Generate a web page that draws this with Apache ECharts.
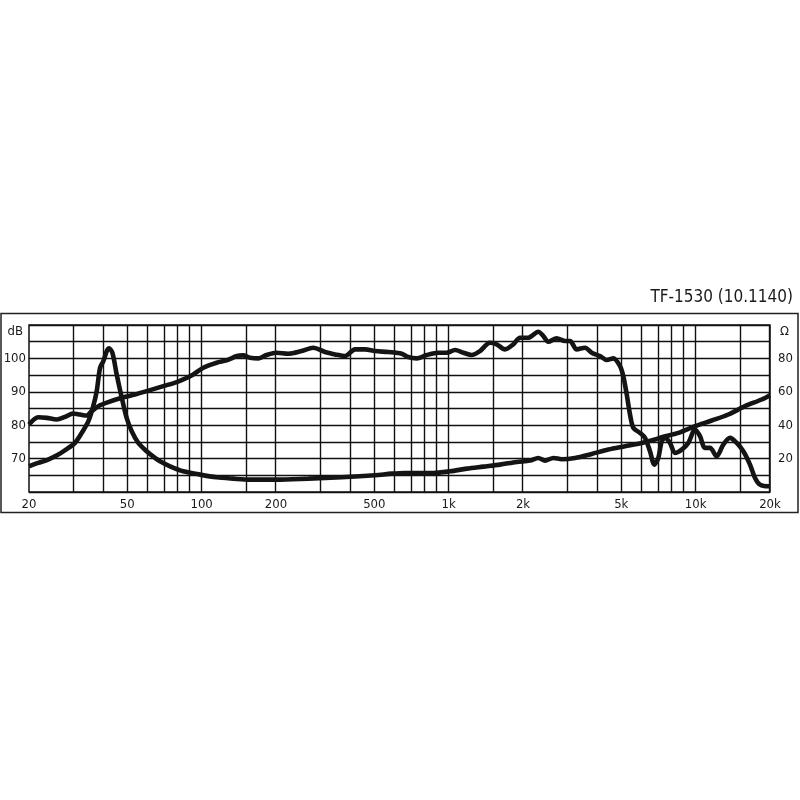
<!DOCTYPE html>
<html>
<head>
<meta charset="utf-8">
<script src="https://cdn.jsdelivr.net/npm/echarts@6/dist/echarts.min.js"></script>
<style>
  html, body { margin: 0; padding: 0; background: #fff; }
  #chartTf { width: 800px; height: 800px; }
</style>
</head>
<body>
<div id="chartTf"></div>
<script>
// frequency response (dB) and impedance (ohm)
var splFreq = [20, 21.8, 23.6, 25.9, 28, 30.2, 32.2, 34.2, 35.9, 38.2, 41.9, 47.5, 53.7, 61.8, 70, 79.3, 84.3, 92.5,
  101.6, 115, 126, 139, 147, 157, 170, 183, 201, 224, 254, 283, 316, 347, 381, 418, 459, 503, 570, 646, 686, 742,
  815, 908, 982, 1061, 1147, 1240, 1339, 1470, 1565, 1691, 1827, 1945, 2102, 2168, 2306, 2418, 2532, 2738, 2958,
  3100, 3300, 3565, 3794, 4100, 4366, 4642, 4940, 5094, 5260, 5424, 5594, 5954, 6236, 6534, 6802, 7060, 7288,
  7516, 7874, 8250, 8782, 9338, 9940, 10414, 10910, 11430, 12166, 12940, 13774, 14666, 15596, 16598, 17392,
  18220, 19684, 20000]
var splDb = [80.2, 82.4, 82.2, 81.7, 82.5, 83.5, 83.2, 82.9, 84.2, 85.7, 86.9, 88.2, 89.2, 90.5, 91.7, 92.9, 93.7, 95.2,
  97.2, 98.7, 99.4, 100.7, 100.9, 100.2, 100, 101, 101.7, 101.4, 102.2, 103.2, 101.9, 101.2, 100.7, 102.7, 102.7,
  102.2, 101.9, 101.4, 100.4, 100, 101, 101.7, 101.7, 102.5, 101.7, 101, 102.2, 104.7, 104.2, 102.7, 104.2, 106.2,
  106.2, 106.7, 108, 106.7, 105, 106, 105.2, 105.2, 102.7, 103.2, 101.7, 100.7, 99.5, 100, 97.7, 94.7, 89.2, 83.2,
  79.2, 77.7, 76.2, 72.2, 68.2, 70.2, 75.2, 76.2, 74.7, 71.7, 72.7, 74.7, 78.7, 76.7, 73.2, 73.2, 70.7, 74.2, 76.2,
  74.7, 72.2, 68.2, 64.2, 62.2, 61.7, 61.7]

var impFreq = [20, 21.8, 23.9, 26.3, 28.9, 30.7, 32.7, 34.8, 36.4, 37.6, 38.8, 40, 41.3, 42.2, 43.5, 45.3, 47.5, 49.7,
  52.1, 55.4, 59.9, 64.7, 67.8, 74.5, 84.3, 98.5, 115, 134, 157, 201, 270, 369, 503, 588, 666, 867, 1013, 1184,
  1381, 1614, 1886, 2134, 2306, 2456, 2654, 2870, 3248, 3794, 4430, 5176, 6048, 6844, 7288, 8510, 9940, 11614,
  13560, 15844, 18512, 20000]
var impOhm = [15.4, 17.4, 19.4, 22.4, 26.4, 29.4, 35.4, 42.4, 51.4, 60.4, 74.4, 78.4, 84.4, 86, 83.4, 70.4, 56.4, 44.4,
  36.4, 29.4, 24.4, 20.4, 18.4, 15.4, 12.4, 10.4, 8.8, 8, 7.4, 7.4, 8, 8.8, 10, 11, 11.4, 11.4, 12.4, 14, 15.2,
  16.4, 18, 18.8, 20.4, 18.8, 20.4, 19.6, 20.4, 22.8, 25.4, 27.4, 29.4, 31.4, 32.8, 35.4, 39.4, 42.8, 46.4, 51.4,
  55.4, 58]

var gridFreq = [20, 30, 40, 50, 60, 70, 80, 90, 100, 150, 200, 300, 400, 500, 600, 700, 800, 900, 1000, 1500, 2000,
  3000, 4000, 5000, 6000, 7000, 8000, 9000, 10000, 15000, 20000]
var labelFreq = [20, 50, 100, 200, 500, 1000, 2000, 5000, 10000, 20000]
var titleText = 'TF-1530 (10.1140)'

function lg(v) { return Math.log10(v) }
function pairs(fs, vs) {
  let out = []
  for (let i = 0; i < fs.length; i++) out.push([lg(fs[i]), vs[i]])
  return out
}
function fmtFreq(v) {
  let f = Math.round(Math.pow(10, v))
  return f >= 1000 ? (f / 1000) + 'k' : String(f)
}

var labelFont = 'DejaVu Sans Condensed, DejaVu Sans, sans-serif'
var curveStyle = { color: '#141414', width: 4.6 }

let myChart = echarts.init(document.getElementById('chartTf'))
myChart.setOption({
  animation: false,
  backgroundColor: '#fff',
  title: {
    text: titleText,
    right: 2,
    top: 284,
    textStyle: { fontSize: 17, fontWeight: 'normal', color: '#1a1a1a', fontFamily: labelFont }
  },
  graphic: [{
    type: 'rect',
    shape: { x: 1, y: 313.5, width: 797, height: 199 },
    style: { fill: 'none', stroke: '#222', lineWidth: 1.5 },
    silent: true
  }],
  grid: {
    left: 29, right: 30, top: 325, bottom: 308,
    show: true, borderColor: '#111', borderWidth: 1.5
  },
  xAxis: {
    type: 'value',
    min: lg(20),
    max: lg(20000),
    axisLine: { show: false },
    axisTick: { show: false },
    splitLine: { show: false },
    axisLabel: {
      customValues: labelFreq.map(lg),
      formatter: fmtFreq,
      margin: 6,
      color: '#1a1a1a',
      fontSize: 13,
      fontFamily: labelFont
    }
  },
  yAxis: [
    {
      type: 'value',
      min: 60, max: 110, interval: 5,
      axisLine: { show: false },
      axisTick: { show: false },
      splitLine: { lineStyle: { color: '#111', width: 1.4 } },
      axisLabel: {
        margin: 3,
        color: '#1a1a1a',
        fontSize: 13,
        fontFamily: labelFont,
        formatter: function (v) {
          if (v === 110) return '{u|dB}'
          return (v >= 70 && v <= 100 && v % 10 === 0) ? String(v) : ''
        },
        rich: { u: { padding: [14, 3, 0, 0], fontSize: 13, color: '#1a1a1a', fontFamily: labelFont } }
      }
    },
    {
      type: 'value',
      min: 0, max: 100, interval: 10,
      position: 'right',
      axisLine: { show: false },
      axisTick: { show: false },
      splitLine: { show: false },
      axisLabel: {
        margin: 8,
        color: '#1a1a1a',
        fontSize: 13,
        fontFamily: labelFont,
        formatter: function (v) {
          if (v === 100) return '{u|Ω}'
          return (v >= 20 && v <= 80 && v % 20 === 0) ? String(v) : ''
        },
        rich: { u: { padding: [14, 0, 0, 2], fontSize: 13, color: '#1a1a1a', fontFamily: labelFont } }
      }
    }
  ],
  series: [
    {
      name: 'grid',
      type: 'line',
      data: [],
      silent: true,
      markLine: {
        silent: true,
        symbol: 'none',
        label: { show: false },
        animation: false,
        lineStyle: { color: '#111', width: 1.4, type: 'solid' },
        data: gridFreq.map(function (f) { return { xAxis: lg(f) } })
      }
    },
    {
      name: 'SPL',
      type: 'line',
      yAxisIndex: 0,
      data: pairs(splFreq, splDb),
      smooth: 0.3,
      showSymbol: false,
      lineStyle: curveStyle,
      z: 5
    },
    {
      name: 'Impedance',
      type: 'line',
      yAxisIndex: 1,
      data: pairs(impFreq, impOhm),
      smooth: 0.3,
      showSymbol: false,
      lineStyle: curveStyle,
      z: 5
    }
  ]
})
</script>
</body>
</html>
